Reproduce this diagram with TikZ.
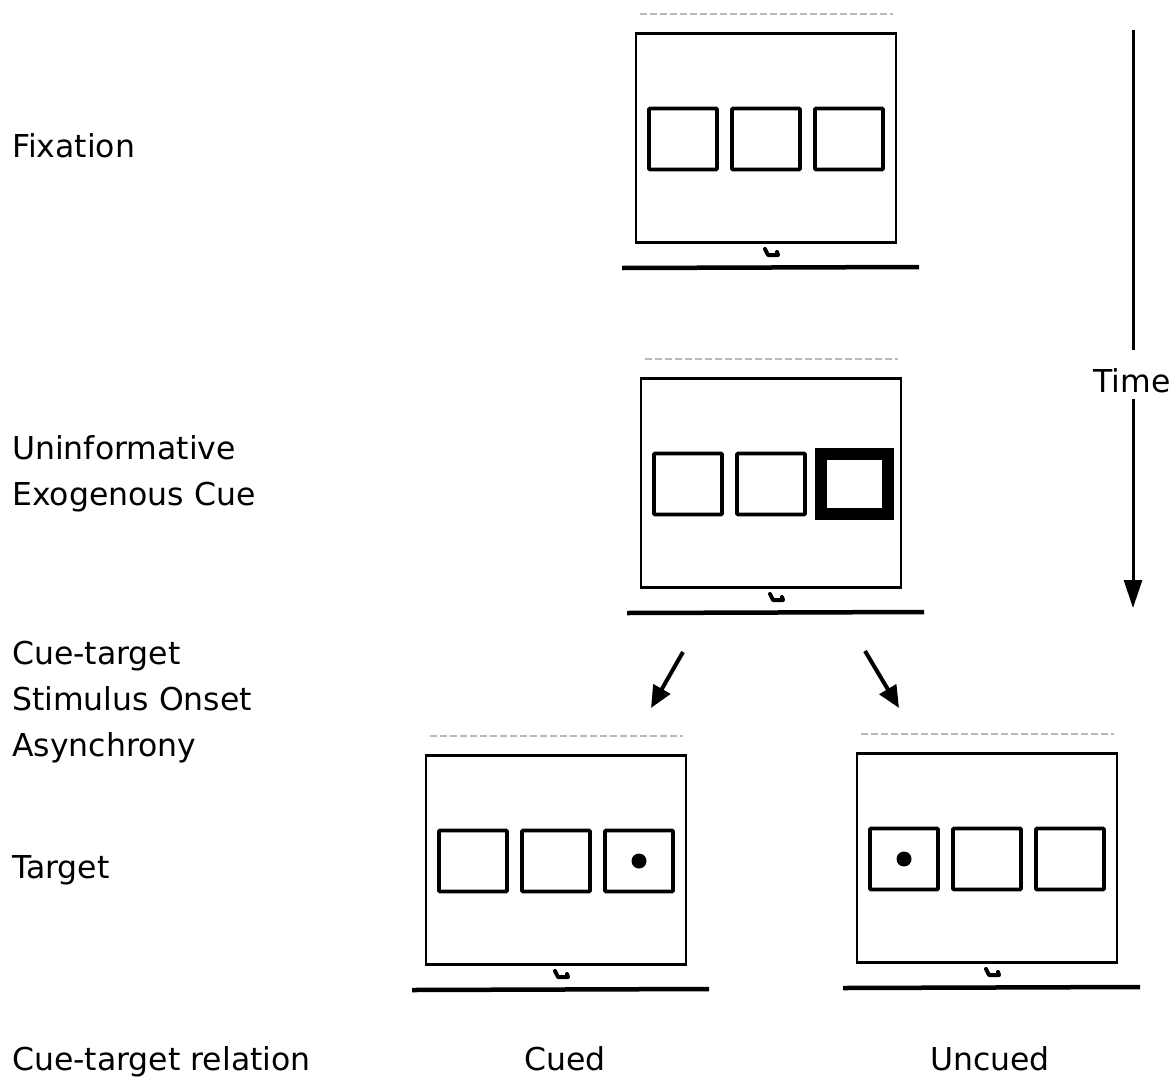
\documentclass[tikz,border=0pt]{standalone}
\usepackage{fontspec}
\setmainfont{DejaVu Sans}
\usetikzlibrary{arrows.meta}

\tikzset{
  screen/.style={draw, line width=2.4pt, minimum width=260pt, minimum height=209pt, inner sep=0pt},
  holder/.style={draw, line width=3.6pt, minimum width=68pt, minimum height=61pt, inner sep=0pt, rounded corners=1pt},
  cuebox/.style={draw, line width=12pt, minimum width=67pt, minimum height=60pt, inner sep=0pt, line join=miter},
  probe/.style={circle, fill, inner sep=0pt, minimum size=15pt},
  standbar/.style={line width=4.5pt},
  footmark/.style={line width=4pt, line cap=round, line join=round},
  scanline/.style={gray!55, line width=1.2pt, dash pattern=on 7pt off 3pt},
  lbl/.style={anchor=base west, inner sep=0pt, align=left, font=\fontsize{31.5}{46}\selectfont},
  flow/.style={line width=4pt, -{Triangle[length=22pt,width=19pt]}},
  timeline/.style={line width=3pt},
}

% one display: #1 style of the third slot, #2 name, #3 left, #4 top
\newcommand\monitor[4][holder]{%
  \node[screen] (#2) at ({#3+130},{#4+105}) {};
  \node[holder] (#2-1) at ({#3+47},{#4+106}) {};
  \node[holder] (#2-2) at ({#3+130},{#4+106}) {};
  \node[#1] (#2-3) at ({#3+213},{#4+106}) {};
  % stand and the small mark on it
  \draw[standbar] ({#3-14},{#4+235}) -- ({#3+283},{#4+234});
  \draw[footmark] ({#3+129},{#4+216}) -- ({#3+132},{#4+222}) -- ({#3+142},{#4+222}) -- ({#3+141},{#4+219});
  \draw[scanline] ({#3+4},{#4-19}) -- ({#3+257},{#4-19});
}

\begin{document}
\begin{tikzpicture}[x=1pt,y=1pt,yscale=-1,xscale=1]
\useasboundingbox (0,0) rectangle (1174,1081);

% displays
\monitor{fix}{636}{33}
\monitor[cuebox]{cue}{641}{378}
\monitor{cued}{426}{755}
\monitor{uncued}{857}{753}
\node[probe] (cued-dot) at (cued-3) {};
\node[probe] (uncued-dot) at (uncued-1) {};

% split to the two target displays
\coordinate (fork-l) at (683,652);
\coordinate (to-cued) at (651,708);
\coordinate (fork-r) at (865,651);
\coordinate (to-uncued) at (899,708);
\draw[flow] (fork-l) -- (to-cued);
\draw[flow] (fork-r) -- (to-uncued);

% time axis
\coordinate (time-top) at (1133,30);
\node[lbl, anchor=base] (time) at (1132,392) {Time};
\coordinate (time-end) at (1133,608);
\draw[timeline, shorten >=18pt] (time-top) -- (time-top |- time.north);
\draw[timeline, shorten <=6pt, -{Triangle[length=28pt,width=18pt]}] (time-end |- time.south) -- (time-end);

% row labels (base = last line)
\node[lbl] (l-fix) at (12,157) {Fixation};
\node[lbl] (l-cue) at (12,505) {Uninformative\\Exogenous Cue};
\node[lbl] (l-soa) at (12,756) {Cue-target\\Stimulus Onset\\Asynchrony};
\node[lbl] (l-target) at (12,878) {Target};
\node[lbl] (l-rel) at (12,1070) {Cue-target relation};
\node[lbl, anchor=base] (l-cued) at (565,1070) {Cued};
\node[lbl, anchor=base] (l-uncued) at (990,1070) {Uncued};
\end{tikzpicture}
\end{document}
